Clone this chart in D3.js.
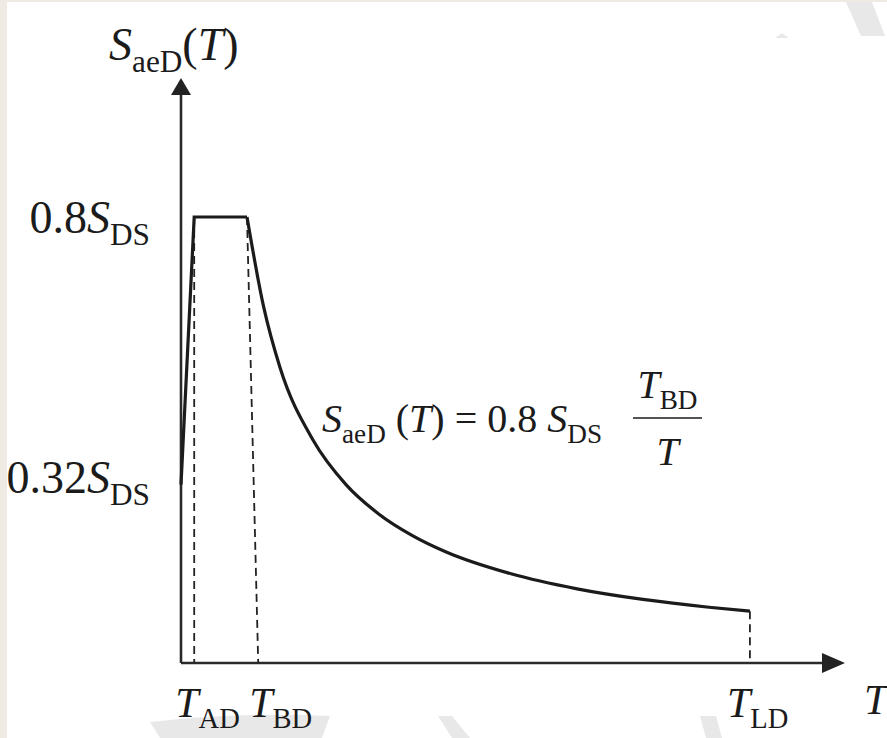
<!DOCTYPE html>
<html>
<head>
<meta charset="UTF-8">
<title>Design spectrum</title>
<script src="https://cdn.jsdelivr.net/npm/d3@7"></script>
<style>
  html, body { margin: 0; padding: 0; background: #fff; }
  #chart { width: 887px; height: 738px; }
</style>
</head>
<body>
<div id="chart"></div>
<script>
// corner periods (relative to T_BD = 1)
const cornerNames = ["AD", "BD", "LD"];
const cornerT = [0.2, 1.0, 8.62];
const cornerFootT = [0.2, 1.17, 8.62];   // where each dashed line meets the T axis

// rising branch and plateau: [T, S/S_DS]
const plateauPts = [[0, 0.32], [0.2, 0.8], [1.0, 0.8]];
// descending branch
const decayPts = [
  [1.0, 0.80], [1.25, 0.64], [1.5, 0.53], [2.0, 0.40], [2.5, 0.32],
  [3.0, 0.267], [3.5, 0.229], [4.0, 0.20], [5.0, 0.16], [6.0, 0.133],
  [7.0, 0.114], [8.0, 0.10], [8.62, 0.093]
];
const yTickValues = [0.8, 0.32];
const yTickLabels = [["0.8", "DS"], ["0.32", "DS"]];

const W = 887, H = 738;
const serif = "'Liberation Serif', 'DejaVu Serif', serif";
const ink = "#1b1b1b";

const svg = d3.select("#chart").append("svg")
  .attr("width", W).attr("height", H);

// scanned-page look: beige edge + faint watermark strokes
svg.append("rect").attr("width", W).attr("height", H).attr("fill", "#efebe4");
svg.append("rect").attr("x", 7).attr("y", 2).attr("width", W - 7).attr("height", H - 2).attr("fill", "#fff");
const wm = svg.append("g").attr("fill", "#e8e8e8");
wm.append("path").attr("d", "M846,2 L872,2 L885,36 L861,36 Z");
wm.append("path").attr("d", "M775,38 L782,33 L789,38 Z");
wm.append("path").attr("d", "M150,722 Q240,712 330,716 L322,738 L160,738 Z");
wm.append("path").attr("d", "M438,716 L452,716 L470,738 L452,738 Z");
wm.append("path").attr("d", "M700,716 L716,716 L722,738 L706,738 Z");

const x = d3.scaleLinear().domain([0, 10]).range([181, 841]);
const y = d3.scaleLinear().domain([0, 0.8]).range([663, 217]);

function mathText(g, px, py, parts, size, anchor) {
  const t = g.append("text")
    .attr("x", px).attr("y", py)
    .attr("font-family", serif)
    .attr("font-size", size)
    .attr("fill", ink)
    .attr("text-anchor", anchor || "start");
  let down = false;
  parts.forEach(([s, kind]) => {
    const sp = t.append("tspan").text(s);
    if (kind === "sub") {
      sp.attr("font-size", size * 0.68);
      if (!down) { sp.attr("dy", size * 0.27); down = true; }
    } else {
      if (down) { sp.attr("dy", -size * 0.27); down = false; }
      if (kind === "i") sp.attr("font-style", "italic");
    }
  });
  return t;
}

// axes with arrow heads
const axes = svg.append("g").attr("stroke", "#2a2a2a").attr("stroke-width", 2.6).attr("fill", "none");
axes.append("path").attr("d", `M${x(0)},${y(0)} L${x(0)},92`);
axes.append("path").attr("d", `M${x(0)},${y(0)} L823,${y(0)}`);
svg.append("path").attr("fill", "#222")
  .attr("d", `M${x(0)},78 L${x(0) + 10},95 L${x(0) - 10},95 Z`);
svg.append("path").attr("fill", "#222")
  .attr("d", `M845,${y(0)} L822,${y(0) - 10} L822,${y(0) + 10} Z`);

// dashed guides at the corner periods
const guideTop = [0.8, 0.8, decayPts[decayPts.length - 1][1]];
svg.append("g").selectAll("line")
  .data(cornerT)
  .join("line")
  .attr("x1", d => x(d))
  .attr("y1", (d, i) => y(guideTop[i]))
  .attr("x2", (d, i) => x(cornerFootT[i]))
  .attr("y2", y(0))
  .attr("stroke", "#222")
  .attr("stroke-width", 1.8)
  .attr("stroke-dasharray", "8,5");

// spectrum
const lin = d3.line().x(d => x(d[0])).y(d => y(d[1]));
const smooth = d3.line().x(d => x(d[0])).y(d => y(d[1])).curve(d3.curveMonotoneX);
svg.append("path").attr("d", lin(plateauPts))
  .attr("fill", "none").attr("stroke", ink).attr("stroke-width", 3.2).attr("stroke-linejoin", "miter");
svg.append("path").attr("d", smooth(decayPts))
  .attr("fill", "none").attr("stroke", ink).attr("stroke-width", 3.2);

// y tick labels
yTickValues.forEach((v, i) => {
  mathText(svg, 150, y(v) + (i === 0 ? 16 : 8),
    [[yTickLabels[i][0], "r"], ["S", "i"], [yTickLabels[i][1], "sub"]], 46, "end");
});

// x tick labels
const xLabelDx = [-19, -9, -23];
cornerNames.forEach((n, i) => {
  mathText(svg, x(cornerFootT[i]) + xLabelDx[i], 717, [["T", "i"], [n, "sub"]], 42);
});
mathText(svg, 864, 714, [["T", "i"]], 42);

// y axis title
mathText(svg, 109, 60, [["S", "i"], ["aeD", "sub"], ["(", "r"], ["T", "i"], [")", "r"]], 46);

// formula
mathText(svg, 322, 432, [["S", "i"], ["aeD", "sub"], [" (", "r"], ["T", "i"], [") = 0.8 ", "r"],
  ["S", "i"], ["DS", "sub"]], 40);
const fx0 = 633, fx1 = 702, fy = 418;
svg.append("line").attr("x1", fx0).attr("x2", fx1).attr("y1", fy).attr("y2", fy)
  .attr("stroke", ink).attr("stroke-width", 1.6);
mathText(svg, (fx0 + fx1) / 2, 398, [["T", "i"], ["BD", "sub"]], 40, "middle");
mathText(svg, (fx0 + fx1) / 2, 465, [["T", "i"]], 40, "middle");
</script>
</body>
</html>
